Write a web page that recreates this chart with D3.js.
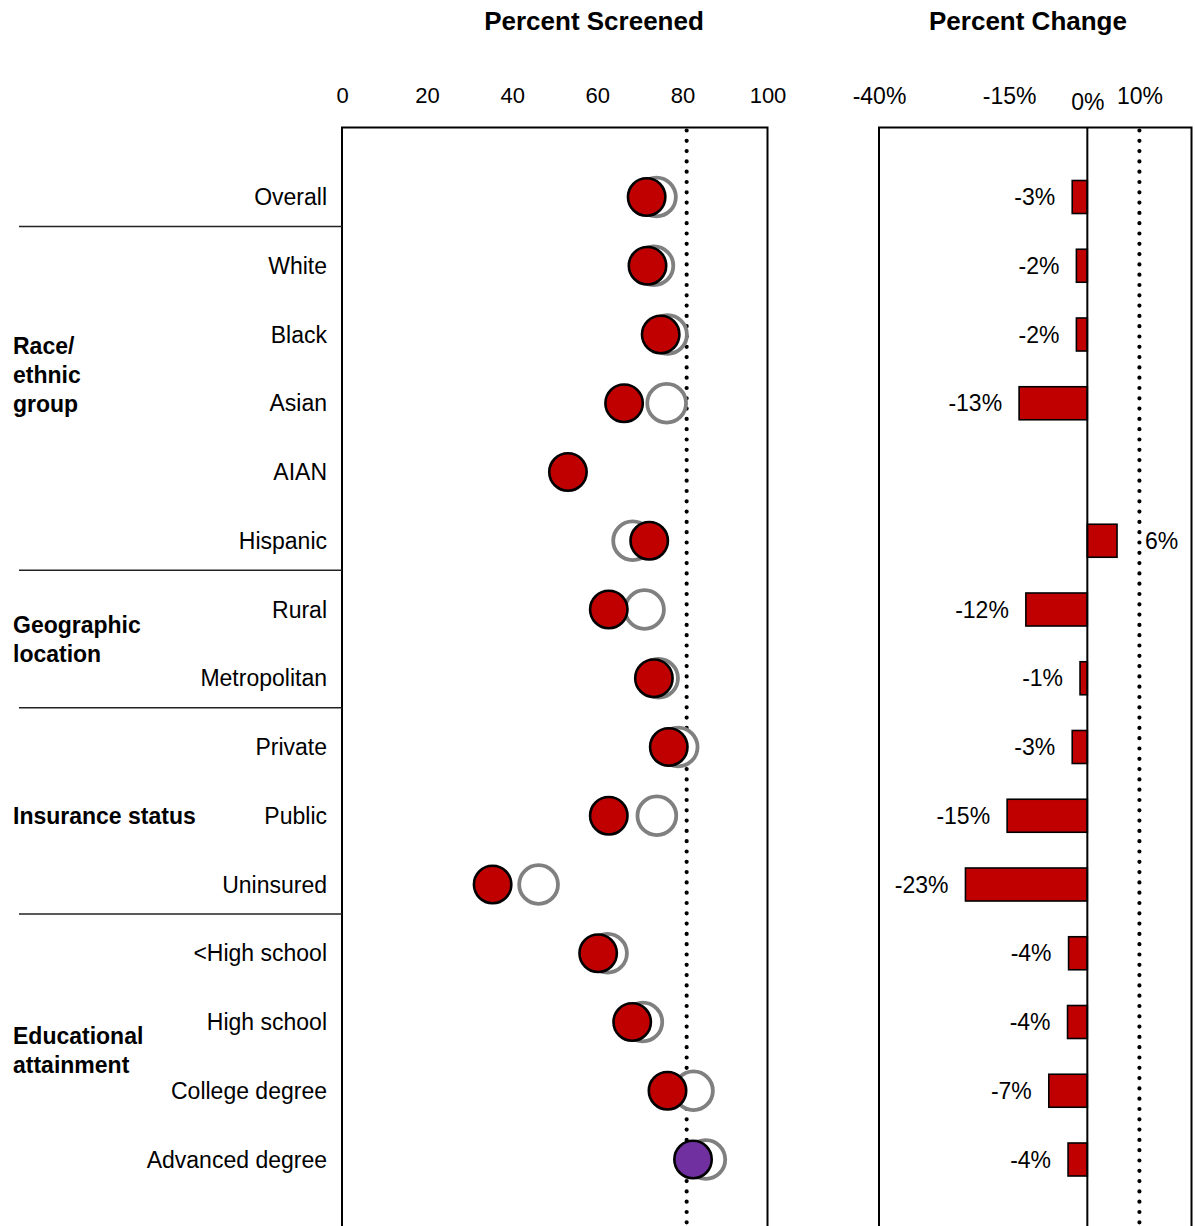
<!DOCTYPE html>
<html>
<head>
<meta charset="utf-8">
<script src="https://cdn.jsdelivr.net/npm/d3@7"></script>
<style>
  html, body { margin: 0; padding: 0; background: #fff; }
  svg { display: block; font-family: "Liberation Sans", Arial, Helvetica, sans-serif; }
</style>
</head>
<body>
<svg id="chart" width="1195" height="1226"></svg>
<script>
// ---- Data ----
const categories = ["Overall", "White", "Black", "Asian", "AIAN", "Hispanic", "Rural", "Metropolitan",
  "Private", "Public", "Uninsured", "<High school", "High school", "College degree", "Advanced degree"];
// earlier period (grey open circles)
const screenedBefore = [73.9, 73.3, 76.5, 76.3, null, 68.3, 71.1, 74.4, 79.0, 74.0, 46.2, 62.4, 70.7, 82.6, 85.5];
// later period (filled circles)
const screenedAfter = [71.6, 71.8, 74.9, 66.3, 53.1, 72.2, 62.7, 73.3, 76.8, 62.7, 35.4, 60.2, 68.2, 76.5, 82.5];
// percent change
const percentChange = [-2.9, -2.1, -2.1, -13.1, null, 5.7, -11.8, -1.4, -2.9, -15.4, -23.4, -3.6, -3.8, -7.4, -3.7];
const target = 81;
const changeRef = 10;
const groupLabels = [["Race/", "ethnic", "group"], ["Geographic", "location"], ["Insurance status"], ["Educational", "attainment"]];
const groupFirst = ["White", "Rural", "Private", "<High school"];
const leftTicks = [0, 20, 40, 60, 80, 100];
const rightTicks = [-40, -15, 0, 10];

// ---- Layout ----
const svg = d3.select("#chart");
const W = 1195, H = 1226;
const panelTop = 127.5;
const y = d3.scalePoint().domain(categories).range([197, 1159.5]);
const step = y.step();
const xL = d3.scaleLinear().domain([0, 100]).range([342, 767.5]);
const xR = d3.scaleLinear().domain([-40, 20]).range([879, 1191.5]);
const red = "#C00000", purple = "#7030A0", grey = "#808080";

// Titles
svg.append("text").attr("x", 594).attr("y", 30).attr("text-anchor", "middle")
  .attr("font-weight", "bold").attr("font-size", 26).text("Percent Screened");
svg.append("text").attr("x", 1028).attr("y", 30).attr("text-anchor", "middle")
  .attr("font-weight", "bold").attr("font-size", 26).text("Percent Change");

// Axes (tick labels only)
const axL = svg.append("g").attr("transform", `translate(0,103)`)
  .call(d3.axisTop(xL).tickValues(leftTicks).tickSize(0).tickPadding(0));
axL.select(".domain").remove();
axL.attr("font-family", null).attr("font-size", null);
axL.selectAll("text").attr("font-size", 22).attr("fill", "#000").attr("dy", 0).attr("y", 0);

const axR = svg.append("g").attr("transform", `translate(0,104)`)
  .call(d3.axisTop(xR).tickValues(rightTicks).tickSize(0).tickPadding(0).tickFormat(d => d + "%"));
axR.select(".domain").remove();
axR.attr("font-family", null).attr("font-size", null);
axR.selectAll("text").attr("font-size", 23).attr("fill", "#000").attr("dy", 0)
  .attr("y", d => d === 0 ? 6 : 0);

// Panel frames
svg.append("rect").attr("x", xL(0)).attr("y", panelTop).attr("width", xL(100) - xL(0)).attr("height", H)
  .attr("fill", "none").attr("stroke", "#000").attr("stroke-width", 2);
svg.append("rect").attr("x", xR(-40)).attr("y", panelTop).attr("width", xR(20) - xR(-40)).attr("height", H)
  .attr("fill", "none").attr("stroke", "#000").attr("stroke-width", 2);

// Separators
const seps = groupFirst.map(c => y(c) - step * 0.57);
svg.append("g").selectAll("line").data(seps).join("line")
  .attr("x1", 19).attr("x2", xL(0)).attr("y1", d => d).attr("y2", d => d)
  .attr("stroke", "#222").attr("stroke-width", 1.5);

// Row labels
svg.append("g").selectAll("text").data(categories).join("text")
  .attr("x", 327).attr("y", d => y(d) + 8).attr("text-anchor", "end")
  .attr("font-size", 23).text(d => d);

// Group labels
const groupCenters = [y("Black") + 40, y("Rural") + 30, y("Public"), y("High school") + 28];
const lineH = 29;
groupLabels.forEach((lines, i) => {
  const c = groupCenters[i];
  const start = c - (lines.length - 1) * lineH / 2;
  lines.forEach((ln, j) => {
    svg.append("text").attr("x", 13).attr("y", start + j * lineH + 8)
      .attr("font-size", 23).attr("font-weight", "bold").text(ln);
  });
});

// Target dotted lines
const dot = (x) => svg.append("line").attr("x1", x).attr("x2", x).attr("y1", panelTop + 3).attr("y2", H)
  .attr("stroke", "#000").attr("stroke-width", 4.2).attr("stroke-linecap", "round")
  .attr("stroke-dasharray", "0 10.3");
dot(xL(target));
dot(xR(changeRef));

// Circles: before (grey rings)
const rows = categories.map((c, i) => ({ c, before: screenedBefore[i], after: screenedAfter[i], chg: percentChange[i] }));
svg.append("g").selectAll("circle").data(rows.filter(d => d.before != null)).join("circle")
  .attr("cx", d => xL(d.before)).attr("cy", d => y(d.c)).attr("r", 19.4)
  .attr("fill", "#fff").attr("stroke", grey).attr("stroke-width", 3.8);
// after (filled)
svg.append("g").selectAll("circle").data(rows.filter(d => d.after != null)).join("circle")
  .attr("cx", d => xL(d.after)).attr("cy", d => y(d.c)).attr("r", 18.7)
  .attr("fill", d => d.after >= target ? purple : red).attr("stroke", "#000").attr("stroke-width", 2.6);

// Bars
const barH = 33;
const bars = rows.filter(d => d.chg != null);
svg.append("g").selectAll("rect").data(bars).join("rect")
  .attr("x", d => Math.min(xR(0), xR(d.chg))).attr("width", d => Math.abs(xR(d.chg) - xR(0)))
  .attr("y", d => y(d.c) - barH / 2).attr("height", barH)
  .attr("fill", red).attr("stroke", "#000").attr("stroke-width", 1.6);

// zero line
svg.append("line").attr("x1", xR(0)).attr("x2", xR(0)).attr("y1", panelTop).attr("y2", H)
  .attr("stroke", "#000").attr("stroke-width", 2);

// Bar labels
svg.append("g").selectAll("text").data(bars).join("text")
  .attr("x", d => d.chg < 0 ? xR(d.chg) - 17 : xR(d.chg) + 28)
  .attr("y", d => y(d.c) + 8)
  .attr("text-anchor", d => d.chg < 0 ? "end" : "start")
  .attr("font-size", 23)
  .text(d => Math.round(d.chg) + "%");
</script>
</body>
</html>
